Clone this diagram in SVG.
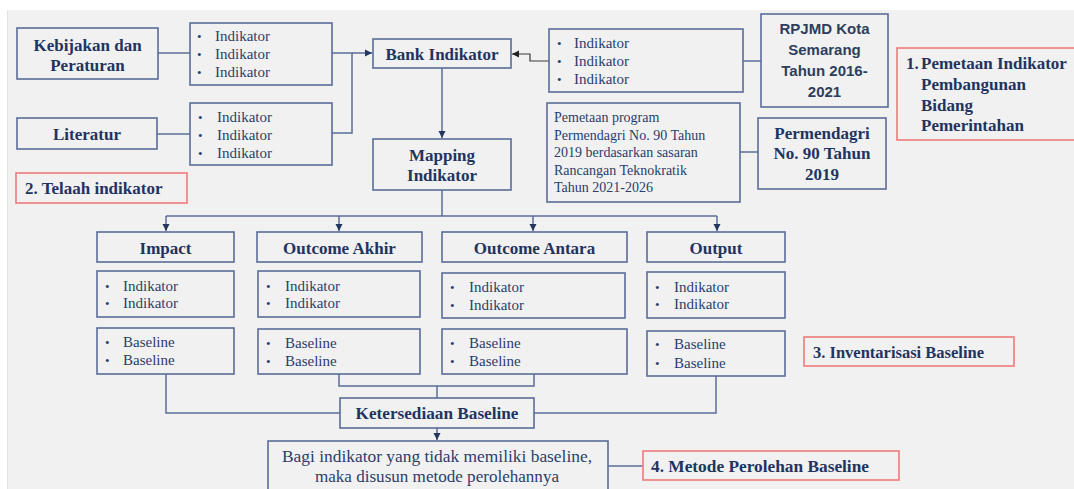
<svg xmlns="http://www.w3.org/2000/svg" width="1074" height="489" viewBox="0 0 1074 489">
<defs>
<style>
.box{fill:#f1f1f1;stroke:#5b6d98;stroke-width:1.6}
.red{fill:#f1f1f1;stroke:#f07a7a;stroke-width:1.6}
.ln{fill:none;stroke:#5b6d98;stroke-width:1.5}
.lk{fill:none;stroke:#3a3a3a;stroke-width:1.2}
.b{font-family:"Liberation Serif","Times New Roman",serif;font-weight:bold;font-size:17px;fill:#1f3461}
.r{font-family:"Liberation Serif","Times New Roman",serif;font-size:15px;fill:#2b3d6b}
.s{font-family:"Liberation Sans",Arial,sans-serif;font-weight:bold;font-size:15px;fill:#2e3e5c}
.c{text-anchor:middle}
.dot{font-family:"Liberation Serif",serif;font-size:13px;fill:#2b3d6b}
</style>
<marker id="ah" markerWidth="8" markerHeight="8" refX="7" refY="4" orient="auto" markerUnits="userSpaceOnUse">
<path d="M0,0.5 L7,4 L0,7.5 Z" fill="#23365f"/>
</marker>
<marker id="ak" markerWidth="8" markerHeight="8" refX="7" refY="4" orient="auto" markerUnits="userSpaceOnUse">
<path d="M0,0.5 L7,4 L0,7.5 Z" fill="#222"/>
</marker>
</defs>
<rect x="0" y="0" width="1074" height="489" fill="#ffffff"/>
<rect x="8" y="10" width="1066" height="479" fill="#f1f1f1"/>
<line x1="7.5" y1="10" x2="7.5" y2="489" stroke="#e4e4e4" stroke-width="1"/>

<g id="connectors">
<path class="ln" d="M158,53 H190"/>
<path class="ln" d="M157,134 H190"/>
<path class="ln" d="M332,53 H352 V133 H332"/>
<path class="ln" d="M352,53 H372" marker-end="url(#ah)"/>
<path class="lk" d="M549,61 H530 V54 H512" marker-end="url(#ak)"/>
<path class="ln" d="M743,61 H761"/>
<path class="ln" d="M740,152 H758"/>
<path class="ln" d="M442,68 V138" marker-end="url(#ah)"/>
<path class="ln" d="M442,190 V216"/>
<path class="ln" d="M166,216 H717"/>
<path class="ln" d="M166,216 V231" marker-end="url(#ah)"/>
<path class="ln" d="M339,216 V231" marker-end="url(#ah)"/>
<path class="ln" d="M533,216 V231" marker-end="url(#ah)"/>
<path class="ln" d="M717,216 V231" marker-end="url(#ah)"/>
<path class="ln" d="M166,374 V413 H340"/>
<path class="ln" d="M716,376 V413 H534"/>
<path class="ln" d="M339,374 V386 H534 V374"/>
<path class="ln" d="M437,386 V398"/>
<path class="ln" d="M437,428 V440" marker-end="url(#ah)"/>
<path class="ln" d="M608,466 H643"/>
</g>

<g id="kebijakan">
<rect class="box" x="17" y="28" width="141" height="51"/>
<text class="b c" x="87.5" y="51">Kebijakan dan</text>
<text class="b c" x="87.5" y="71">Peraturan</text>
</g>
<g id="ind-kebijakan">
<rect class="box" x="190" y="23" width="142" height="62"/>
<text class="dot" x="197" y="41">•</text><text class="r" x="215" y="41">Indikator</text>
<text class="dot" x="197" y="59">•</text><text class="r" x="215" y="59">Indikator</text>
<text class="dot" x="197" y="77">•</text><text class="r" x="215" y="77">Indikator</text>
</g>
<g id="literatur">
<rect class="box" x="17" y="118" width="140" height="31"/>
<text class="b c" x="87" y="140">Literatur</text>
</g>
<g id="ind-literatur">
<rect class="box" x="190" y="103" width="142" height="62"/>
<text class="dot" x="198" y="122">•</text><text class="r" x="217" y="122">Indikator</text>
<text class="dot" x="198" y="140">•</text><text class="r" x="217" y="140">Indikator</text>
<text class="dot" x="198" y="158">•</text><text class="r" x="217" y="158">Indikator</text>
</g>
<g id="telaah">
<rect class="red" x="16" y="173" width="171" height="30"/>
<text class="b" x="25" y="194">2. Telaah indikator</text>
</g>
<g id="bank">
<rect class="box" x="373" y="39" width="138" height="29"/>
<text class="b c" x="442" y="60">Bank Indikator</text>
</g>
<g id="mapping">
<rect class="box" x="373" y="139" width="138" height="51"/>
<text class="b c" x="442" y="161">Mapping</text>
<text class="b c" x="442" y="181">Indikator</text>
</g>
<g id="ind-rpjmd">
<rect class="box" x="549" y="29" width="194" height="63"/>
<text class="dot" x="557" y="48">•</text><text class="r" x="574" y="48">Indikator</text>
<text class="dot" x="557" y="66">•</text><text class="r" x="574" y="66">Indikator</text>
<text class="dot" x="557" y="84">•</text><text class="r" x="574" y="84">Indikator</text>
</g>
<g id="rpjmd">
<rect class="box" x="761" y="14" width="127" height="93"/>
<text class="s c" x="824.5" y="34">RPJMD Kota</text>
<text class="s c" x="824.5" y="55">Semarang</text>
<text class="s c" x="824.5" y="76">Tahun 2016-</text>
<text class="s c" x="824.5" y="97">2021</text>
</g>
<g id="pemetaan-program">
<rect class="box" x="547" y="103" width="193" height="99"/>
<text class="r" x="554" y="122" style="font-size:14px">Pemetaan program</text>
<text class="r" x="554" y="140" style="font-size:14px">Permendagri No. 90 Tahun</text>
<text class="r" x="554" y="157" style="font-size:14px">2019 berdasarkan sasaran</text>
<text class="r" x="554" y="175" style="font-size:14px">Rancangan Teknokratik</text>
<text class="r" x="554" y="192" style="font-size:14px">Tahun 2021-2026</text>
</g>
<g id="permendagri">
<rect class="box" x="758" y="118" width="128" height="71"/>
<text class="b c" x="822" y="139">Permendagri</text>
<text class="b c" x="822" y="159">No. 90 Tahun</text>
<text class="b c" x="822" y="180">2019</text>
</g>
<g id="pemetaan-indikator">
<rect class="red" x="897" y="48" width="180" height="92"/>
<text class="b" x="906" y="69">1.</text>
<text class="b" x="921" y="69">Pemetaan Indikator</text>
<text class="b" x="921" y="90">Pembangunan</text>
<text class="b" x="921" y="111">Bidang</text>
<text class="b" x="921" y="131">Pemerintahan</text>
</g>

<g id="impact">
<rect class="box" x="97" y="232" width="137" height="30"/>
<text class="b c" x="165.5" y="254">Impact</text>
</g>
<g id="outcome-akhir">
<rect class="box" x="257" y="232" width="165" height="30"/>
<text class="b c" x="339.5" y="254">Outcome Akhir</text>
</g>
<g id="outcome-antara">
<rect class="box" x="442" y="232" width="185" height="30"/>
<text class="b c" x="534.5" y="254">Outcome Antara</text>
</g>
<g id="output">
<rect class="box" x="647" y="232" width="138" height="30"/>
<text class="b c" x="716" y="254">Output</text>
</g>

<g id="ind-impact">
<rect class="box" x="97" y="271" width="137" height="46"/>
<text class="dot" x="105" y="291">•</text><text class="r" x="123" y="291">Indikator</text>
<text class="dot" x="105" y="308">•</text><text class="r" x="123" y="308">Indikator</text>
</g>
<g id="ind-outcome-akhir">
<rect class="box" x="258" y="271" width="162" height="46"/>
<text class="dot" x="266" y="291">•</text><text class="r" x="285" y="291">Indikator</text>
<text class="dot" x="266" y="308">•</text><text class="r" x="285" y="308">Indikator</text>
</g>
<g id="ind-outcome-antara">
<rect class="box" x="442" y="273" width="183" height="45"/>
<text class="dot" x="450" y="292">•</text><text class="r" x="469" y="292">Indikator</text>
<text class="dot" x="450" y="310">•</text><text class="r" x="469" y="310">Indikator</text>
</g>
<g id="ind-output">
<rect class="box" x="647" y="272" width="138" height="46"/>
<text class="dot" x="655" y="292">•</text><text class="r" x="674" y="292">Indikator</text>
<text class="dot" x="655" y="309">•</text><text class="r" x="674" y="309">Indikator</text>
</g>

<g id="base-impact">
<rect class="box" x="97" y="328" width="137" height="46"/>
<text class="dot" x="105" y="347">•</text><text class="r" x="123" y="347">Baseline</text>
<text class="dot" x="105" y="365">•</text><text class="r" x="123" y="365">Baseline</text>
</g>
<g id="base-outcome-akhir">
<rect class="box" x="258" y="329" width="162" height="45"/>
<text class="dot" x="266" y="348">•</text><text class="r" x="285" y="348">Baseline</text>
<text class="dot" x="266" y="366">•</text><text class="r" x="285" y="366">Baseline</text>
</g>
<g id="base-outcome-antara">
<rect class="box" x="442" y="329" width="185" height="45"/>
<text class="dot" x="450" y="348">•</text><text class="r" x="469" y="348">Baseline</text>
<text class="dot" x="450" y="366">•</text><text class="r" x="469" y="366">Baseline</text>
</g>
<g id="base-output">
<rect class="box" x="647" y="331" width="138" height="45"/>
<text class="dot" x="655" y="349">•</text><text class="r" x="674" y="349">Baseline</text>
<text class="dot" x="655" y="368">•</text><text class="r" x="674" y="368">Baseline</text>
</g>
<g id="inventarisasi">
<rect class="red" x="804" y="337" width="210" height="29"/>
<text class="b" x="813" y="358" style="font-size:16.5px">3. Inventarisasi Baseline</text>
</g>

<g id="ketersediaan">
<rect class="box" x="340" y="398" width="194" height="30"/>
<text class="b c" x="437" y="419" style="font-size:16.5px" textLength="163" lengthAdjust="spacingAndGlyphs">Ketersediaan Baseline</text>
</g>
<g id="metode-box">
<rect class="box" x="268" y="441" width="340" height="60"/>
<text class="r c" x="437" y="462" style="font-size:17px" textLength="310" lengthAdjust="spacingAndGlyphs">Bagi indikator yang tidak memiliki baseline,</text>
<text class="r c" x="437" y="482" style="font-size:17px" textLength="244" lengthAdjust="spacingAndGlyphs">maka disusun metode perolehannya</text>
</g>
<g id="metode-perolehan">
<rect class="red" x="643" y="451" width="256" height="29"/>
<text class="b" x="651" y="472" style="font-size:17px" textLength="218" lengthAdjust="spacingAndGlyphs">4. Metode Perolehan Baseline</text>
</g>
</svg>
